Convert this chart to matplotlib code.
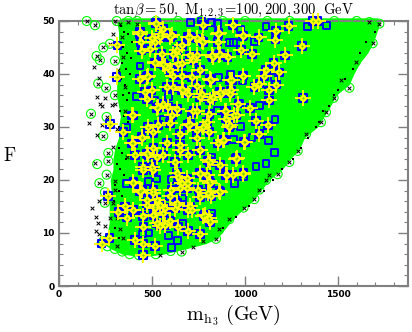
import matplotlib
matplotlib.use('Agg')
import matplotlib.pyplot as plt

plt.rcParams['mathtext.fontset'] = 'cm'

#Allowed green region, left and right edge per F level
F_levels = [5.6,6,7,8,9,10,12,14,16,18,20,22,24,26,28,30,32,34,36,38,40,42,44,46,48,50,50.6]
x_left = [430,340,280,235,240,260,270,270,270,280,275,290,290,300,320,320,330,320,310,310,310,330,320,320,320,310,340]
x_right = [470,560,680,790,850,875,920,975,1040,1085,1130,1200,1245,1295,1320,1390,1425,1460,1490,1560,1585,1615,1660,1690,1710,1730,1710]

#Open green circles along the edges
circ_x = [149,194,238,274,202,220,301,211,253,301,172,256,238,265,265,205,310,373,229,271,217,256,247,247,
          1722,1686,1561,1476,1435,1408,1328,1283,1668,1596,1516,1238,1175,1113,1050,992,915,844,1077,862,659,
          240,260,300,340,380,430,520,600,
          420,520,640,760,880,1000,1120,1240,1360,1480,1600]
circ_f = [50,49.2,45,45.7,43.4,42.6,42.5,38.2,37.4,36,32.5,31.9,28.3,25.1,23.6,23,50,50,8,9,19.4,21,17.7,15.7,
          49.5,45.8,37.4,35.5,32.8,30.9,28.7,25.5,49.8,42.3,38.8,23.4,21.1,20,16.4,14.8,12.6,8.9,18.2,10.7,6.5,
          8.5,7.5,7,6.5,6,5.8,6,6.6,
          50,50,50,50,50,50,50,50,50,50,50]

#Black crosses
cross_x = [149,194,238,274,202,220,301,190,215,211,253,301,202,247,220,229,283,172,163,256,233,202,238,265,265,194,
           217,256,247,217,247,176,199,211,247,199,215,301,274,543,659,722,776,
           301,328,373,418,292,337,346,319,355,301,355,310,292,364,301,292,310,328,346,310,
           1722,1686,1561,1476,1435,1408,1328,1283,1668,1596,1516,1238,1175,1113,1050,992,915,844,1077,1130,862]
cross_f = [50,49.2,45,45.7,43.4,42.6,42.5,41.4,39.3,38.2,37.4,36,35.7,35.5,34.4,33.9,34.1,32.5,30.8,31.9,30.3,28.4,28.3,25.1,23.6,23.3,
           19.4,21,17.7,16.1,15.7,14.7,13,11.9,11.4,10.4,9.9,18.2,12.9,5.9,6.5,7.4,8.4,
           50,49.5,49.8,49.5,47.6,47,43.2,40.7,37.5,34.4,33.1,29.7,26.2,24.3,19.8,15.7,12.9,10.7,9.1,7.6,
           49.5,45.8,37.4,35.5,32.8,30.9,28.7,25.5,49.8,42.3,38.8,23.4,21.1,20,16.4,14.8,12.6,8.9,18.2,21,10.7]

#Small black specks in the edge bands
dot_x = [335,350,370,390,345,365,385,340,360,380,335,355,375,345,365,330,350,370,325,345,365,320,340,360,310,330,350,300,320,340,295,315,335,300,320,
         1700,1650,1620,1580,1540,1500,1450,1420,1380,1340,1300,1260,1200,1150,1100,1020,950,880,1480,1400]
dot_f = [49,48,47.5,46,45,44,43,42,41,40,39,38,36.5,36,35,33,32,31,30,29,27,26,25,24,23,22,21,19,18,17,16,14,13,11,9,
         48,46,44,41,39,37,34,33,30,28,26,24,22,20,18,15,13,11,36,31]

#Blue squares without a star on top
sq_x = [708,767,435,418,588,516,561,364,511,713,820,853,1113,1337,1440,975,915,937,1050,921,856,987,1157,969,1077,853,
        1161,975,1037,1125,937,1157,1113,1059,822,480,525,602,364,665,484,588,636,606,663,450,942,992,822]
sq_f = [49.7,50,41.5,35.8,35.8,35,31.4,29.9,28.8,32.5,49.7,49.6,49,49,49.1,48.4,46,46,46.2,39.9,39.3,38.7,39.4,34.5,34.1,33.1,
        31.4,30.1,28,27.5,27.6,25.2,23.1,22.6,24.2,19.7,20.2,20.1,19.3,16.6,10,9.5,8.6,7.3,11.8,9.8,19.3,20.7,13.7]

#Yellow stars
star_x = [521,314,435,543,498,597,740,695,776,516,633,659,570,740,471,310,615,758,579,659,525,471,391,606,722,767,444,391,579,507,650,740,776,471,525,650,758,274,704,
          1363,1390,1234,933,858,987,1166,1163,1073,853,1306,978,1037,862,826,906,1216,1154,1184,1113,1104,987,930,817,1077,1050,1166,1130,871,924,826,1130,1310,1028,897,942,808,1059,1122,915,897,1077,996,853,889,951,808,799,
          450,229,271,409,453,516,400,453,507,659,758,435,355,400,364,453,516,561,543,597,695,758,713,776,686,604,507,749,471,633,265,
          991,898,933,862,808,817,799,808,812,
          435,439,444,522,561,606,516,543,489,552,615,516,660,704,704,722,776,767,857,937,991,866,821,642,597,660,480,435,462,498,561,534,615,660,713,740,695,758,812,919,991,866,812,919,964,740,633,588,892,400,955,668,561,
          480,346,400,444,534,597,695,740,794,919,1000,883,758,650,507,480,409,561,624,453,498,695,812,866,955,901,991,758,642,812,866,695,400,435,507,758,650,355,400,471,543,624,695,785,507,
          445,633,687,794,687,319,525,597,516,570,633,705,812,525,570,454,642]
star_f = [49.6,45.4,47.6,47.6,46.7,47,46.7,47,46,42,44.5,42,41.6,43.5,39.4,39.4,39.7,40.7,37.5,37,33.5,35.3,32.2,32.2,33,36.3,28,26.9,27,29,28.7,28,30,25,24.3,25.6,25.6,30.6,30.6,
          50,50,49,49.2,47.8,47.2,48.2,46.5,46.9,46,45.3,44.5,43.8,43.5,43.2,43.2,43.5,42.1,40.3,40.7,39.6,39.7,38.8,38.9,38.2,37.5,38,36.9,36.3,36.9,35.7,35,35.5,33.6,33.1,32.2,32.5,31.1,30.3,30,31.6,28.7,27.2,26.9,27.5,24,29,23.7,
          5.9,8,9.1,8.7,8,7.6,19.6,21.9,21.9,19.4,21.3,17.9,15,14.4,12.9,13.2,15,13.8,11.4,12.3,10.4,9.8,14.4,13.2,19.4,18.2,17.6,18.2,16.3,15.7,17,
          21.4,21,21,17.9,19.8,17,17.6,12.9,12,
          47.9,46,44.4,49.5,48.5,47.3,46,47,44.8,43.8,43.8,42.2,45.4,47,43.5,42.6,49.2,46.3,47.6,49.2,47.3,43.8,43.5,41.9,40.7,39.7,39.7,39.1,36.6,36.9,34.4,33.8,37.5,37.2,39.4,37.8,36.3,35.6,39.1,38.8,39.7,36.6,35,36.3,34.4,33.1,33.4,33.8,33.1,32.2,32.2,36.9,41.9,
          30,29.1,26.9,28.2,30.4,30.7,30.4,29.4,31,30.4,27.2,27.5,25.6,26.6,26,24.7,24.7,24.7,23.4,22.5,22.5,24.7,23.4,22.8,24.1,20.9,21.2,21.2,20.6,19.4,17.8,19.4,19.4,17.8,18.1,16.8,18.4,15,14.3,15.3,15.3,14.6,14.3,13.4,13.4,
          18.1,21.3,20.3,21,18.4,14,16.2,16.9,14.7,14.7,15.3,15,12.2,11.8,11.5,11.2,11.2]

green = '#00ff00'
blue = '#0000ff'
grey = '#808080'

fig = plt.figure(figsize=(4.12, 3.32), dpi=100)
ax = fig.add_axes([59/412, 46/332, 349/412, 265/332])

ax.fill_betweenx(F_levels, x_left, x_right, color=green, lw=0, zorder=2, clip_on=False)
ax.scatter(circ_x, circ_f, s=42, facecolors='none', edgecolors=green, linewidths=0.8, zorder=3, clip_on=False)
ax.scatter(dot_x, dot_f, s=1.5, marker='s', color='black', linewidths=0, zorder=4, clip_on=False)
ax.scatter(cross_x, cross_f, s=7, marker='x', color='black', linewidths=0.7, zorder=4, clip_on=False)
ax.scatter(sq_x, sq_f, s=24, marker='s', facecolors='none', edgecolors=blue, linewidths=1.3, zorder=5, clip_on=False)
ax.scatter(star_x, star_f, s=30, marker='s', facecolors='none', edgecolors=blue, linewidths=1.5, zorder=5, clip_on=False)
ax.scatter(star_x, star_f, s=125, marker='+', color='yellow', linewidths=1.3, zorder=6, clip_on=False)
ax.scatter(star_x, star_f, s=20, marker='D', color='yellow', linewidths=0, zorder=6, clip_on=False)
ax.scatter(star_x, star_f, s=2, marker='D', color='#7fd000', linewidths=0, zorder=7, clip_on=False)

ax.set_xlim(0, 1876)
ax.set_ylim(0, 50)
ax.set_xticks([0, 500, 1000, 1500])
ax.set_xticks(range(0, 1900, 100), minor=True)
ax.set_yticks([0, 10, 20, 30, 40, 50])
ax.set_yticks(range(0, 52, 2), minor=True)
ax.tick_params(which='major', direction='in', length=7.5, width=1.0, color=grey,
               top=True, right=True, labelsize=6.5, pad=3)
ax.tick_params(which='minor', direction='in', length=3, width=0.8, color=grey, top=True, right=True)
for lab in ax.get_xticklabels() + ax.get_yticklabels():
    lab.set_fontweight('bold')
for s in ax.spines.values():
    s.set_color(grey)
    s.set_linewidth(1.5)

ax.set_title(r'$\mathrm{tan}\beta\mathrm{=50,\ M_{1,2,3}\!=\!100,200,300\ \ GeV}$', fontsize=10.5, pad=3)
fig.text(0.451, 0.012, r'$\mathrm{m_{h_3}\ (GeV)}$', fontsize=14.5, ha='left', va='bottom')
fig.text(0.008, 0.533, r'$\mathrm{F}$', fontsize=13.5, ha='left', va='center')

fig.savefig('out.png', dpi=100)
